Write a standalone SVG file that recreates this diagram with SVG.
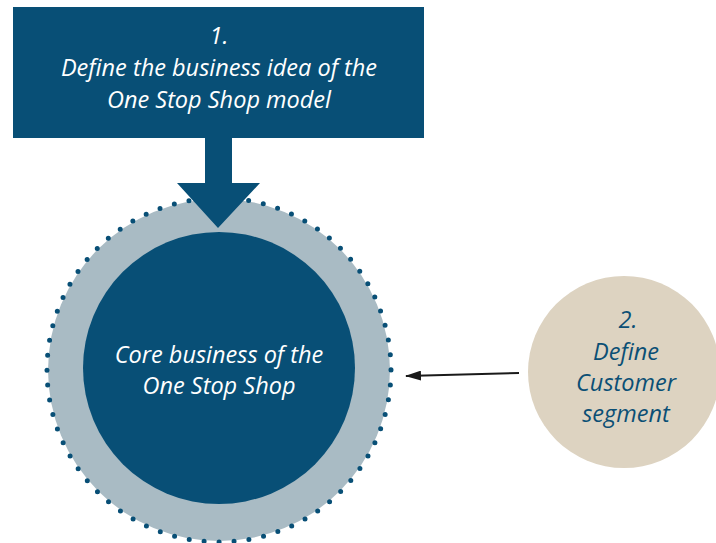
<svg xmlns="http://www.w3.org/2000/svg" width="716" height="543" viewBox="0 0 716 543">
<defs>
<style>
.t{font-family:"Open Sans","Liberation Sans",sans-serif;font-style:italic;text-anchor:middle;font-size:23.5px}
.w{fill:#ffffff}
.b{fill:#0b4f75}
</style>
<marker id="ah" viewBox="0 0 16 10" refX="15" refY="5" markerWidth="16" markerHeight="10" markerUnits="userSpaceOnUse" orient="auto">
<path d="M0,0 L16,5 L0,10 Z" fill="#1a1a1a"/>
</marker>
</defs>
<rect width="716" height="543" fill="#ffffff"/>
<g id="core">
<circle cx="219" cy="370" r="171" fill="#a9bbc4"/>
<circle cx="219" cy="370" r="172" fill="none" stroke="#084f76" stroke-width="5" stroke-linecap="round" stroke-dasharray="0 15"/>
<circle cx="219" cy="368" r="136" fill="#084f76"/>
<text class="t w" x="219" y="363">Core business of the</text>
<text class="t w" x="219" y="394">One Stop Shop</text>
</g>
<g id="step1">
<rect x="13" y="7" width="411" height="131" fill="#084f76"/>
<text class="t w" x="219" y="44">1.</text>
<text class="t w" x="219" y="76">Define the business idea of the</text>
<text class="t w" x="219" y="108">One Stop Shop model</text>
</g>
<g id="step2">
<circle cx="624" cy="372" r="96" fill="#ddd3c1"/>
<text class="t b" x="628" y="328">2.</text>
<text class="t b" x="626" y="360">Define</text>
<text class="t b" x="626" y="391">Customer</text>
<text class="t b" x="626" y="422">segment</text>
</g>
<g id="connectors">
<path d="M205,138 H232 V183 H260 L218,228 L177,183 H205 Z" fill="#084f76"/>
<line x1="519" y1="373" x2="406" y2="376" stroke="#1a1a1a" stroke-width="2" marker-end="url(#ah)"/>
</g>
</svg>
